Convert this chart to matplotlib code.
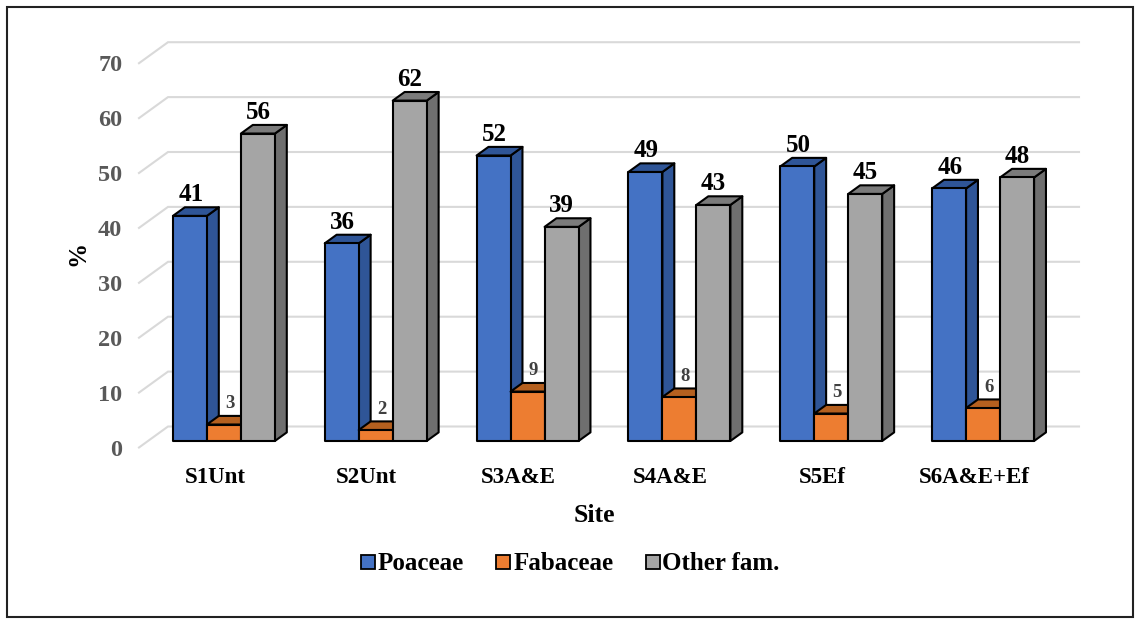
import numpy as np
import matplotlib
matplotlib.use('Agg')
import matplotlib.pyplot as plt
from matplotlib.patches import Polygon, Rectangle
from matplotlib.lines import Line2D

sites = ['S1Unt', 'S2Unt', 'S3A&E', 'S4A&E', 'S5Ef', 'S6A&E+Ef']
poaceae = [41, 36, 52, 49, 50, 46]
fabaceae = [3, 2, 9, 8, 5, 6]
other_fam = [56, 62, 39, 43, 45, 48]
y_ticks = [0, 10, 20, 30, 40, 50, 60, 70]

W, H = 1135, 622
plt.rcParams['font.family'] = ['Liberation Serif', 'DejaVu Serif']
plt.rcParams['font.weight'] = 'bold'

fig = plt.figure(figsize=(W / 100, H / 100), dpi=100)

# floor-front plane of the fake 3d chart, in pixels
left, right, base, px_per_unit = 139, 1050, 447.5, 5.49
ax = fig.add_axes([left / W, 1 - base / H, (right - left) / W, 70 * px_per_unit / H])
ax.set_xlim(-0.5, 5.5)
ax.set_ylim(0, 70)
for s in ax.spines.values():
    s.set_visible(False)

px_x = 6 / (right - left)   # data units per pixel, x
px_y = 1 / px_per_unit      # data units per pixel, y
depth_x = 29 * px_x
depth_y = 21 * px_y


def shift(x, y, d):
    return x + d * depth_x, y + d * depth_y


# back wall gridlines and the diagonal on the side wall
for v in y_ticks:
    x0, y0 = shift(-0.5, v, 0)
    x1, y1 = shift(-0.5, v, 1)
    x2, y2 = shift(5.5, v, 1)
    ax.plot([x0, x1, x2], [y0, y1, y2], color='#D9D9D9', lw=1.5, zorder=1,
            clip_on=False, solid_joinstyle='miter')

bar_w = 34 * px_x
d_front, d_back = 0.31, 0.72
series = [
    ('Poaceae', poaceae, -1, '#4472C4', '#2F5597', '#2F5597', 1),
    ('Fabaceae', fabaceae, 0, '#ED7D31', '#B5601F', '#B5601F', 6),
    ('Other fam.', other_fam, 1, '#A5A5A5', '#6F6F6F', '#7B7B7B', 0),
]

# draw left to right so each bar hides the side face of the previous one
for i, site in enumerate(sites):
    for name, vals, pos, col, side, top, lab_dx in series:
        v = vals[i]
        xc = i + pos * bar_w
        xl, y0 = shift(xc - bar_w / 2, 0, d_front)
        xr = xl + bar_w
        yt = y0 + v
        dx = (d_back - d_front) * depth_x
        dy = (d_back - d_front) * depth_y
        kw = dict(edgecolor='black', lw=1.5, joinstyle='round', clip_on=False, zorder=3)
        ax.add_patch(Polygon([(xr, y0), (xr + dx, y0 + dy), (xr + dx, yt + dy), (xr, yt)],
                             facecolor=side, **kw))
        ax.add_patch(Polygon([(xl, yt), (xl + dx, yt + dy), (xr + dx, yt + dy), (xr, yt)],
                             facecolor=top, **kw))
        ax.add_patch(Rectangle((xl, y0), bar_w, v, facecolor=col, **kw))
        small = name == 'Fabaceae'
        ax.annotate(str(v), (xl + bar_w / 2, yt), xytext=(lab_dx, 21),
                    textcoords='offset pixels', ha='center', va='center',
                    fontsize=13.5 if small else 18,
                    color='#404040' if small else 'black', zorder=4, annotation_clip=False)

ax.set_xticks(range(len(sites)))
ax.set_xticklabels(sites, fontsize=16.5, color='black')
ax.set_yticks(y_ticks)
ax.set_yticklabels(y_ticks, fontsize=17.5, color='#595959')
ax.tick_params(axis='both', length=0)
ax.tick_params(axis='y', pad=12)
ax.tick_params(axis='x', pad=14)

fig.text(78 / W, 1 - 253 / H, '%', rotation=90, fontsize=18, color='black',
         ha='center', va='center')
fig.text(594 / W, 1 - 515 / H, 'Site', fontsize=18.5, color='black', ha='center', va='center')

handles = [Line2D([], [], ls='none', marker='s', ms=9.5, mfc=s[3], mec='black', mew=1.3)
           for s in series]
fig.legend(handles, [s[0] for s in series], loc='center', bbox_to_anchor=(567 / W, 1 - 564 / H),
           ncol=3, frameon=False, fontsize=18, handletextpad=-0.16, columnspacing=1.02,
           handlelength=1.1)

# outer frame
fig.add_artist(Rectangle((7 / W, 1 - 617 / H), 1125.5 / W, 610 / H, transform=fig.transFigure,
                         fill=False, edgecolor='#222222', lw=1.5))

fig.savefig('out.png', dpi=100)
